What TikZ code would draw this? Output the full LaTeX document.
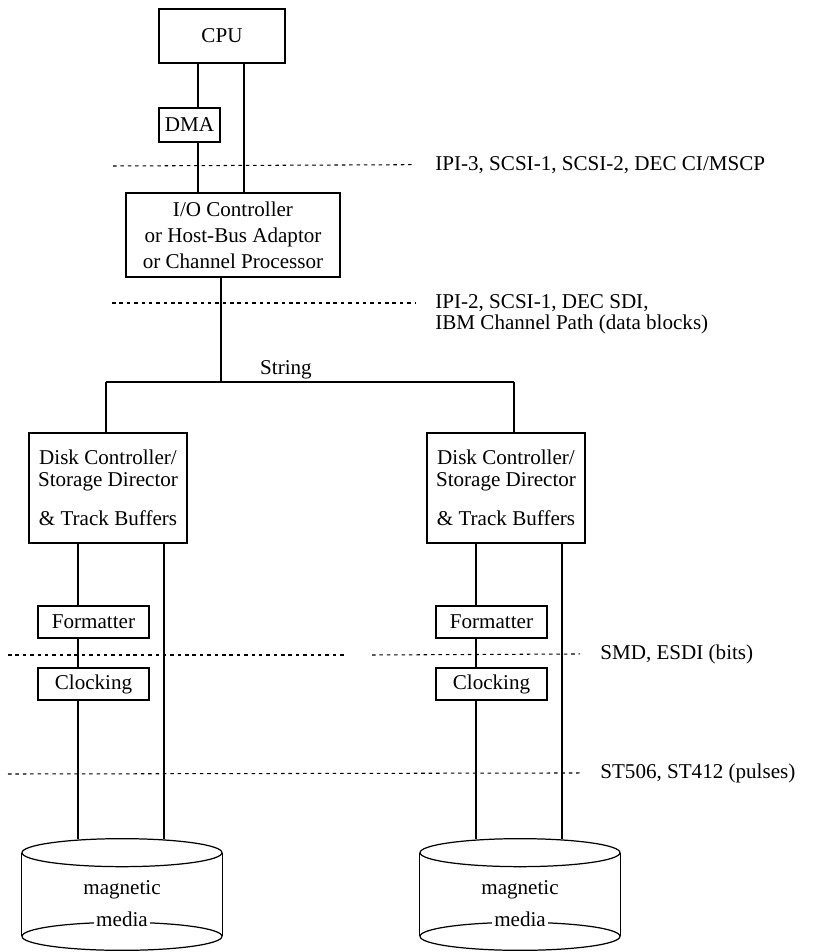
\documentclass[tikz,border=0pt]{standalone}
\usepackage{fontspec}
\setmainfont{Liberation Serif}
\usetikzlibrary{calc,positioning}
\tikzset{
  hwbox/.style  ={rectangle, draw=black, line width=0.7pt, inner sep=1pt,
                  align=center, font=\fontsize{12}{14.8}\selectfont},
  hwsmall/.style={hwbox, minimum width=2.22cm, minimum height=0.64cm},
  hwline/.style ={line width=0.7pt, black},
  ifline/.style ={line width=0.6pt, dash pattern=on 2pt off 2.2pt},
  iflabel/.style={anchor=mid west, align=left, inner sep=0pt,
                  font=\fontsize{12}{12}\selectfont},
  mdbody/.style ={rectangle, minimum width=4cm, minimum height=2.22cm, inner sep=0pt},
  mdtext/.style ={inner sep=1pt, font=\fontsize{12}{14}\selectfont},
}
\begin{document}
\begin{tikzpicture}[x=0.02cm, y=-0.02cm]
  \useasboundingbox (0,0) rectangle (816,952);
  % host side
  \node[hwbox, minimum width=2.52cm, minimum height=1.08cm] (cpu) at (222,36) {CPU};
  \node[hwbox, minimum width=1.22cm, minimum height=0.68cm] (dma) at (189.5,125) {DMA};
  \node[hwbox, minimum width=4.28cm, minimum height=1.68cm] (ioc) at (233,235)
    {I/O Controller\\or Host-Bus Adaptor\\or Channel Processor};
  \coordinate (busA) at (198,0);
  \coordinate (busB) at (244,0);
  \coordinate (busC) at (221,0);
  \draw[hwline] (cpu.south -| busA) -- (dma.north -| busA);
  \draw[hwline] (dma.south -| busA) -- (ioc.north -| busA);
  \draw[hwline] (cpu.south -| busB) -- (ioc.north -| busB);

  % interface levels
  \node[iflabel] (lvl1) at (435,166) {IPI-3, SCSI-1, SCSI-2, DEC CI/MSCP};
  \node[iflabel, anchor=north west] (lvl2) at (435,294) {IPI-2, SCSI-1, DEC SDI,\\IBM Channel Path (data blocks)};
  \node[iflabel] (lvl3) at (600,655) {SMD, ESDI (bits)};
  \node[iflabel] (lvl4) at (600,774) {ST506, ST412 (pulses)};
  \draw[ifline] (113,166) -- ([xshift=-0.4cm]lvl1.west);
  \draw[ifline] (112,303) -- ([xshift=-0.4cm]lvl2.west |- 0,303);
  \draw[ifline] (8,655) -- (345,655);
  \draw[ifline] (372,655) -- ([xshift=-0.4cm]lvl3.west);
  \draw[ifline] (8,774) -- ([xshift=-0.4cm]lvl4.west);

  % string
  \coordinate (strL) at (106,382);
  \coordinate (strR) at (514,382);
  \draw[hwline] (ioc.south -| busC) -- (busC |- strL);
  \draw[hwline] (strL) -- (strR);
  \node[inner sep=1pt, font=\fontsize{12}{14}\selectfont, anchor=south] (strlbl) at (286,381) {String};

  % two disk strings
  \foreach \s/\c in {0/L,398/R} {
    \begin{scope}[shift={(\s,0)}]
      \node[hwbox, minimum width=3.16cm, minimum height=2.2cm,
            font=\fontsize{12}{12.5}\selectfont] (dc\c) at (108,488)
        {Disk Controller/\\Storage Director\\[10pt]\& Track Buffers};
      \node[hwsmall] (fmt\c) at (93.5,622) {Formatter};
      \node[hwsmall] (clk\c) at (93.5,684) {Clocking};
      \node[mdbody] (md\c) at (122,894.5) {};
      \coordinate (rdA\c) at (78,0);
      \coordinate (rdB\c) at (164,0);
      \draw[hwline] ($(md\c.north)+(0,14)$) ellipse[x radius=2cm, y radius=0.28cm];
      \draw[hwline] ($(md\c.south)+(0,-14)$) ellipse[x radius=2cm, y radius=0.28cm];
      \draw[hwline] ($(md\c.north west)+(0,14)$) -- ($(md\c.south west)+(0,-14)$);
      \draw[hwline] ($(md\c.north east)+(0,14)$) -- ($(md\c.south east)+(0,-14)$);
      \node[mdtext] (mag\c) at (122,890) {magnetic};
      \node[mdtext, fill=white] (mda\c) at (122,919) {media};
      \draw[hwline] (dc\c.south -| rdA\c) -- (fmt\c.north -| rdA\c);
      \draw[hwline] (fmt\c.south -| rdA\c) -- (clk\c.north -| rdA\c);
      \draw[hwline] (clk\c.south -| rdA\c) -- (md\c.north -| rdA\c);
      \draw[hwline] (dc\c.south -| rdB\c) -- (md\c.north -| rdB\c);
    \end{scope}
  }
  \draw[hwline] (strL) -- (strL |- dcL.north);
  \draw[hwline] (strR) -- (strR |- dcR.north);
\end{tikzpicture}
\end{document}
